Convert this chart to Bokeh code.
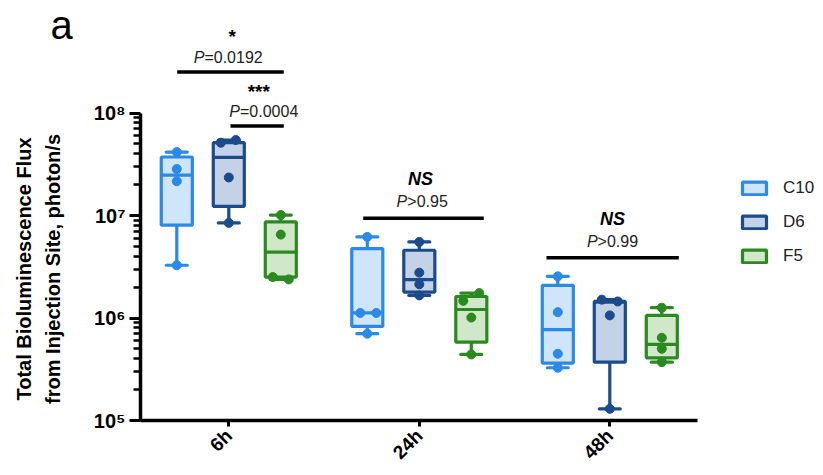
import math
from bokeh.plotting import figure
from bokeh.models import (Range1d, FixedTicker, CustomJSTickFormatter, Label,
                          Legend, LegendItem)
from bokeh.embed import file_html
from bokeh.resources import INLINE

# ---------------- data ----------------
timepoints = ["6h", "24h", "48h"]
clones = ["C10", "D6", "F5"]

# five-number summaries (photon/s), one value per timepoint
c10_min = [3.27e6, 7.03e5, 3.27e5]
c10_q1 = [8.04e6, 8.28e5, 3.63e5]
c10_med = [2.48e7, 1.12e6, 7.69e5]
c10_q3 = [3.72e7, 4.76e6, 2.08e6]
c10_max = [4.16e7, 6.18e6, 2.55e6]
c10_points = [[4.16e7, 2.84e7, 2.16e7, 3.27e6],
              [6.18e6, 1.12e6, 1.12e6, 7.03e5],
              [2.55e6, 1.14e6, 4.48e5, 3.27e5]]

d6_min = [8.47e6, 1.66e6, 1.30e5]
d6_q1 = [1.23e7, 1.79e6, 3.71e5]
d6_med = [3.69e7, 2.37e6, 1.43e6]
d6_q3 = [5.13e7, 4.58e6, 1.45e6]
d6_max = [5.45e7, 5.52e6, 1.51e6]
d6_points = [[5.45e7, 5.13e7, 2.35e7, 8.47e6],
             [5.52e6, 2.77e6, 2.13e6, 1.66e6],
             [1.51e6, 1.45e6, 1.06e6, 1.30e5]]

f5_min = [2.38e6, 4.41e5, 3.71e5]
f5_q1 = [2.51e6, 5.81e5, 4.09e5]
f5_med = [4.40e6, 1.21e6, 5.52e5]
f5_q3 = [8.65e6, 1.62e6, 1.06e6]
f5_max = [1.01e7, 1.75e6, 1.26e6]
f5_points = [[1.01e7, 6.51e6, 2.51e6, 2.38e6],
             [1.75e6, 1.47e6, 1.01e6, 4.41e5],
             [1.26e6, 6.41e5, 5.01e5, 3.71e5]]

# significance annotations
comp_labels = ["*", "***", "NS", "NS"]
comp_pvals = ["=0.0192", "=0.0004", ">0.95", ">0.99"]
y_ticks = [1e5, 1e6, 1e7, 1e8]
ylab_lines = ["Total Bioluminescence Flux", "from Injection Site, photon/s"]
panel_letter = "a"

# ---------------- style / layout ----------------
FONT = "Liberation Sans"
line_colors = ["#2B89E8", "#1B4B8C", "#2A8A1F"]
fill_colors = ["#CFE5FA", "#C4D2E7", "#D0E7C9"]
PXU = 190.5            # px per category unit
PXD = 102.5            # px per decade
DODGE = 0.273
BOX_W = 0.163
CAP_W = 0.11
LW = 3.2
jitter_px = {
    "C10": [[0, 0, 0, 0], [0, -7, 9, 0], [0, 0, 0, 0]],
    "D6": [[7, -8, 0, 0], [0, 0, 0, 0], [-8, 8, 0, 0]],
    "F5": [[0, 0, -8, 8], [8, -8, 0, 0], [0, 0, 0, 0]],
}

LEFT, TOP = 140, 8
FRAME_W, FRAME_H = 675, 412
x_start = -(228.3 - LEFT) / PXU
x_end = x_start + FRAME_W / PXU
y_end = 10 ** (5 + FRAME_H / PXD)

p = figure(frame_width=FRAME_W, frame_height=FRAME_H,
           min_border_left=LEFT, min_border_right=0, min_border_top=TOP,
           min_border_bottom=54,
           x_range=Range1d(x_start, x_end), y_range=Range1d(1e5, y_end),
           y_axis_type="log", output_backend="svg", toolbar_location=None)
p.grid.visible = False
p.outline_line_color = None
p.background_fill_color = "white"
p.border_fill_color = "white"

groups = [
    ("C10", c10_min, c10_q1, c10_med, c10_q3, c10_max, c10_points),
    ("D6", d6_min, d6_q1, d6_med, d6_q3, d6_max, d6_points),
    ("F5", f5_min, f5_q1, f5_med, f5_q3, f5_max, f5_points),
]

legend_items = []
for ci, (name, mn, q1, md, q3, mx, pts) in enumerate(groups):
    lc, fc = line_colors[ci], fill_colors[ci]
    xs = [t + (ci - 1) * DODGE for t in range(len(timepoints))]
    p.segment(x0=xs, y0=q3, x1=xs, y1=mx, line_color=lc, line_width=LW)
    p.segment(x0=xs, y0=q1, x1=xs, y1=mn, line_color=lc, line_width=LW)
    box = p.vbar(x=xs, bottom=q1, top=q3, width=BOX_W, fill_color=fc,
                 line_color=lc, line_width=LW)
    legend_items.append(LegendItem(label=name, renderers=[box]))
    p.segment(x0=[x - BOX_W / 2 for x in xs], y0=md,
              x1=[x + BOX_W / 2 for x in xs], y1=md,
              line_color=lc, line_width=LW)
    for ys in (mx, mn):
        p.segment(x0=[x - CAP_W / 2 for x in xs], y0=ys,
                  x1=[x + CAP_W / 2 for x in xs], y1=ys,
                  line_color=lc, line_width=LW, line_cap="round")
    px, py = [], []
    for ti, vals in enumerate(pts):
        for k, v in enumerate(vals):
            px.append(xs[ti] + jitter_px[name][ti][k] / PXU)
            py.append(v)
    p.scatter(x=px, y=py, size=9, fill_color=lc, line_color=lc)

# axes
xa = p.xaxis[0]
xa.ticker = FixedTicker(ticks=[0, 1, 2])
xa.major_label_overrides = {i: t for i, t in enumerate(timepoints)}
xa.major_label_orientation = math.pi / 4
xa.bounds = (x_start, x_start + 557 / PXU)
xa.axis_line_width = 3.5
xa.axis_line_color = "black"
xa.major_tick_line_width = 3
xa.major_tick_out = 6
xa.major_tick_in = 0
xa.major_label_standoff = 6
xa.major_label_text_font = FONT
xa.major_label_text_font_style = "bold"
xa.major_label_text_font_size = "19px"
xa.major_label_text_color = "black"

ya = p.yaxis[0]
minor = [k * 10 ** e for e in (5, 6, 7) for k in range(2, 10)]
ya.ticker = FixedTicker(ticks=y_ticks, minor_ticks=minor)
ya.bounds = (1e5, 1e8)
ya.formatter = CustomJSTickFormatter(code="""
const sup = {'0':'\u2070','1':'\u00b9','2':'\u00b2','3':'\u00b3','4':'\u2074',
             '5':'\u2075','6':'\u2076','7':'\u2077','8':'\u2078','9':'\u2079'};
const e = Math.round(Math.log10(tick));
return '10' + String(e).split('').map(c => sup[c]).join('');
""")
ya.axis_line_width = 3.5
ya.axis_line_color = "black"
ya.major_tick_line_width = 3
ya.minor_tick_line_width = 2.5
ya.major_tick_out = 11
ya.major_tick_in = 0
ya.minor_tick_out = 7
ya.minor_tick_in = 0
ya.major_label_standoff = 4
ya.major_label_text_font = FONT
ya.major_label_text_font_style = "bold"
ya.major_label_text_font_size = "20px"
ya.major_label_text_color = "black"

# legend
legend = Legend(items=legend_items, location=(599, 154), orientation="vertical",
                glyph_width=30, glyph_height=16, label_height=20, spacing=14,
                label_standoff=14, padding=0, margin=0,
                border_line_color=None, background_fill_alpha=0,
                label_text_font=FONT, label_text_font_size="17px",
                label_text_color="#222222")
p.add_layout(legend)


def xpx(px_img):
    return (px_img - 228.3) / PXU


def ypx(py_img):
    return 10 ** (8 - (py_img - 112.0) / PXD)


# significance bars: (x0, x1, y) in image px
bars = [(176.7, 283.3, 71), (230, 283.3, 125), (362.7, 483.3, 217.3),
        (546, 678.3, 256.7)]
star_pos = [(231.7, 35), (258.3, 90.7), (420, 178.3), (612, 218)]
p_pos = [(227.7, 56.7), (263.3, 110), (421.7, 200.7), (612, 240)]

for (x0, x1, yb) in bars:
    p.segment(x0=[xpx(x0)], y0=[ypx(yb)], x1=[xpx(x1)], y1=[ypx(yb)],
              line_color="black", line_width=3.5)

for i, lab in enumerate(comp_labels):
    sx, sy = star_pos[i]
    p.add_layout(Label(x=xpx(sx), y=ypx(sy), text=lab, text_align="center",
                       text_baseline="middle", text_font=FONT,
                       text_font_style="bold italic" if lab == "NS" else "bold",
                       text_font_size="18px" if lab == "NS" else "19px",
                       text_color="black"))

widths = {"=": 0.584, ">": 0.584, ".": 0.278}
PFS = 16
for i, rest in enumerate(comp_pvals):
    cx, cy = p_pos[i]
    w_rest = sum(widths.get(c, 0.556) for c in rest) * PFS
    w_p = 0.667 * PFS
    split = cx - (w_p + w_rest) / 2 + w_p
    p.add_layout(Label(x=xpx(split), y=ypx(cy), text="P", text_align="right",
                       text_baseline="middle", text_font=FONT,
                       text_font_style="italic", text_font_size=f"{PFS}px",
                       text_color="#222222"))
    p.add_layout(Label(x=xpx(split), y=ypx(cy), text=rest, text_align="left",
                       text_baseline="middle", text_font=FONT,
                       text_font_size=f"{PFS}px", text_color="#222222"))

# y axis title (two rotated lines) and panel letter, in the left side panel
for line, lx in zip(ylab_lines, [23, 52]):
    p.add_layout(Label(x=xpx(lx), y=ypx(268), text=line, angle=math.pi / 2,
                       text_align="center", text_baseline="middle",
                       text_font=FONT, text_font_style="bold",
                       text_font_size="20px", text_color="black"), "left")

p.add_layout(Label(x=xpx(61), y=ypx(24), text=panel_letter, text_align="center",
                   text_baseline="middle", text_font=FONT,
                   text_font_size="40px", text_color="black"), "left")

open("out.html", "w").write(file_html(p, INLINE))
